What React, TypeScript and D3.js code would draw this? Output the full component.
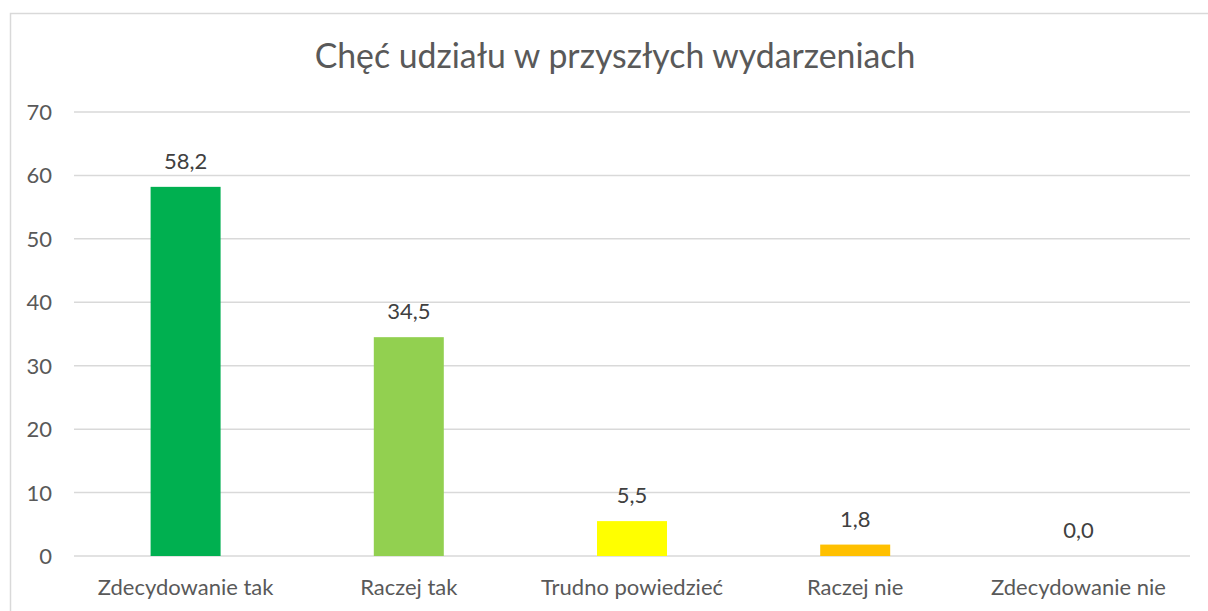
import React from "react";
import * as d3 from "d3";

const categories = ["Zdecydowanie tak", "Raczej tak", "Trudno powiedzieć", "Raczej nie", "Zdecydowanie nie"];
const values = [58.2, 34.5, 5.5, 1.8, 0.0];
const barColors = ["#00B050", "#92D050", "#FFFF00", "#FFC000", "#FF0000"];
const yTicks = [0, 10, 20, 30, 40, 50, 60, 70];
const title = "Chęć udziału w przyszłych wydarzeniach";

const W = 1208;
const H = 611;
const FONT = "Lato, 'Open Sans', sans-serif";

export default function App() {
  const x = d3.scaleBand<string>().domain(categories).range([74, 1190]).paddingInner(0.6864).paddingOuter(0.3432);
  const y = d3.scaleLinear().domain([0, 70]).range([556, 112]);
  const fmt = (v: number) => v.toFixed(1).replace(".", ",");

  return (
    <svg width={W} height={H} style={{ position: "absolute", left: 0, top: 0, display: "block" }} fontFamily={FONT}>
      <rect x={0} y={0} width={W} height={H} fill="#fff" />
      <rect x={10.5} y={13.5} width={1300} height={700} fill="#fff" stroke="#D9D9D9" strokeWidth={1.5} />
      <text x={615} y={68} textAnchor="middle" fontSize={33.8} fill="#595959">{title}</text>
      {yTicks.map((t) => (
        <g key={t}>
          <line x1={74} x2={1190} y1={y(t)} y2={y(t)} stroke="#D9D9D9" strokeWidth={1.5} />
          <text x={52} y={y(t) + 8} textAnchor="end" fontSize={22} fill="#595959">{t}</text>
        </g>
      ))}
      {categories.map((c, i) => (
        <g key={c}>
          <rect x={x(c)} y={y(values[i])} width={x.bandwidth()} height={y(0) - y(values[i])} fill={barColors[i]} />
          <text x={(x(c) as number) + x.bandwidth() / 2} y={y(values[i]) - 18} textAnchor="middle" fontSize={22} fill="#404040">{fmt(values[i])}</text>
          <text x={(x(c) as number) + x.bandwidth() / 2} y={595} textAnchor="middle" fontSize={22} fill="#595959">{c}</text>
        </g>
      ))}
    </svg>
  );
}
